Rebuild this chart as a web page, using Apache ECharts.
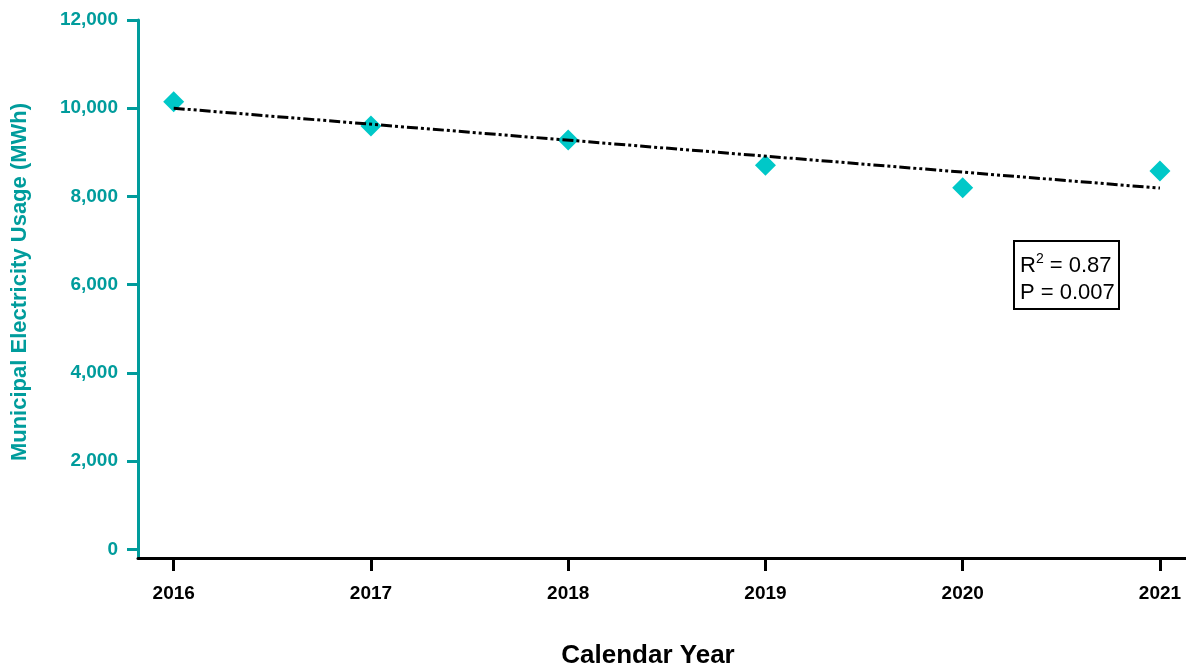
<!DOCTYPE html>
<html>
<head>
<meta charset="utf-8">
<script src="https://cdn.jsdelivr.net/npm/echarts@6/dist/echarts.min.js"></script>
<style>
html,body{margin:0;padding:0;background:#fff;}
#main{width:1186px;height:667px;}
</style>
</head>
<body>
<div id="main"></div>
<script>
const years = [2016, 2017, 2018, 2019, 2020, 2021];
const usage = [10150, 9600, 9280, 8710, 8200, 8580];
const trendYears = [2016, 2021];
const trendValues = [10000, 8190];
const yTickValues = [0, 2000, 4000, 6000, 8000, 10000, 12000];
const statLines = ['R', '2', ' = 0.87', 'P = 0.007'];

const teal = '#009C9C';
const font = 'Liberation Sans, Arial, sans-serif';

const chart = echarts.init(document.getElementById('main'));
chart.setOption({
  animation: false,
  backgroundColor: '#fff',
  grid: { left: 138, right: 0, top: 20, bottom: 109, containLabel: false, outerBoundsMode: 'none' },
  xAxis: {
    type: 'value',
    min: 2015.819,
    max: 2021.132,
    axisLine: { onZero: false, lineStyle: { color: '#000', width: 3 } },
    axisTick: { customValues: years, length: 13, lineStyle: { color: '#000', width: 3 } },
    axisLabel: { customValues: years, color: '#000', fontWeight: 'bold', fontSize: 19, fontFamily: font, margin: 26, formatter: v => String(v) },
    splitLine: { show: false },
    name: 'Calendar Year',
    nameLocation: 'middle',
    nameGap: 85,
    nameTextStyle: { color: '#000', fontWeight: 'bold', fontSize: 26, fontFamily: font, padding: [0, 28, 0, 0] }
  },
  yAxis: {
    type: 'value',
    min: -193,
    max: 12000,
    axisLine: { show: true, lineStyle: { color: teal, width: 3 } },
    axisTick: { show: true, customValues: yTickValues, length: 11, lineStyle: { color: teal, width: 3 } },
    axisLabel: { customValues: yTickValues, color: teal, fontWeight: 'bold', fontSize: 19, fontFamily: font, margin: 20,
      formatter: v => Number(v).toLocaleString('en-US') },
    splitLine: { show: false },
    name: 'Municipal Electricity Usage (MWh)',
    nameLocation: 'middle',
    nameGap: 107,
    nameTextStyle: { color: teal, fontWeight: 'bold', fontSize: 22, fontFamily: font, padding: [0, 0, 0, 14] }
  },
  series: [
    {
      type: 'scatter',
      symbol: 'diamond',
      symbolSize: 21,
      itemStyle: { color: '#00C8C8', opacity: 1 },
      z: 2,
      data: years.map((y, i) => [y, usage[i]])
    },
    {
      type: 'line',
      symbol: 'none',
      z: 3,
      lineStyle: { color: '#000', width: 3, type: [11, 3, 3, 3, 3, 3] },
      data: trendYears.map((y, i) => [y, trendValues[i]])
    }
  ],
  graphic: [
    {
      type: 'rect',
      shape: { x: 1014, y: 241, width: 105, height: 68 },
      style: { fill: '#fff', stroke: '#000', lineWidth: 2 },
      z: 10
    },
    {
      type: 'text',
      x: 1020,
      y: 252,
      z: 11,
      style: {
        text: '{r|' + statLines[0] + '}{s|' + statLines[1] + '}{r|' + statLines[2] + '}\n{r|' + statLines[3] + '}',
        fontFamily: font,
        rich: {
          r: { fontSize: 22, lineHeight: 27, fill: '#000', fontFamily: font },
          s: { fontSize: 14, lineHeight: 27, fill: '#000', fontFamily: font, verticalAlign: 'top' }
        }
      }
    }
  ]
});
</script>
</body>
</html>
